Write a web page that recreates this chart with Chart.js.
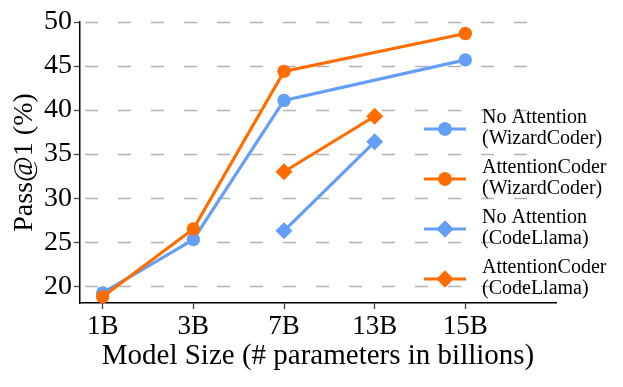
<!DOCTYPE html>
<html>
<head>
<meta charset="utf-8">
<script src="https://cdn.jsdelivr.net/npm/chart.js@4.4.1/dist/chart.umd.min.js"></script>
<style>
  html, body { margin: 0; padding: 0; background: #fff; }
  #wrap { width: 623px; height: 387px; }
</style>
</head>
<body>
<div id="wrap"><canvas id="passChart" width="623" height="387"></canvas></div>
<script>
// model sizes on the x axis
const categories = ['1B', '3B', '7B', '13B', '15B'];
const yTicks = [20, 25, 30, 35, 40, 45, 50];

// Pass@1 (%) per model size, null = not evaluated
const noAttnWizard = [19.25, 25.3, 41.1, null, 45.7];
const attnWizard = [18.8, 26.5, 44.4, null, 48.7];
const noAttnLlama = [null, null, 26.3, 36.4, null];
const attnLlama = [null, null, 33.0, 39.3, null];

const seriesLabels = [
  ['No Attention', '(WizardCoder)'],
  ['AttentionCoder', '(WizardCoder)'],
  ['No Attention', '(CodeLlama)'],
  ['AttentionCoder', '(CodeLlama)']
];

const BLUE = '#659ef6';
const ORANGE = '#ff6d00';
const SERIF = '"Liberation Serif", "Times New Roman", serif';

function toPoints(values) {
  return values
    .map((v, i) => (v === null ? null : { x: i, y: v }))
    .filter(p => p !== null);
}

function makeDataset(idx, values, color, shape, order) {
  return {
    label: seriesLabels[idx].join(' '),
    legendLines: seriesLabels[idx],
    data: toPoints(values),
    borderColor: color,
    backgroundColor: color,
    borderWidth: 3.2,
    pointStyle: shape,
    pointRadius: shape === 'rectRot' ? 8.5 : 6.7,
    pointBorderWidth: 0,
    order: order,
    clip: false
  };
}

// dashed horizontal guides, stopping a bit short of the axis end
const dashedGrid = {
  id: 'dashedGrid',
  beforeDatasetsDraw(chart) {
    const { ctx, chartArea, scales } = chart;
    const xEnd = scales.x.getPixelForValue(4.8);
    ctx.save();
    ctx.strokeStyle = '#b4b4b4';
    ctx.lineWidth = 1.5;
    ctx.setLineDash([13, 20]);
    yTicks.forEach(t => {
      const y = Math.round(scales.y.getPixelForValue(t)) + 0.5;
      ctx.beginPath();
      ctx.moveTo(chartArea.left + 5, y);
      ctx.lineTo(xEnd, y);
      ctx.stroke();
    });
    ctx.restore();
  }
};

// legend with line + marker samples and two-line labels
const sideLegend = {
  id: 'sideLegend',
  afterDatasetsDraw(chart) {
    const { ctx, chartArea } = chart;
    const x0 = chartArea.left + 344;
    const lineLen = 42;
    const textX = x0 + 58;
    let y = chartArea.top + 107;
    ctx.save();
    chart.data.datasets.forEach(ds => {
      ctx.strokeStyle = ds.borderColor;
      ctx.lineWidth = 3.2;
      ctx.beginPath();
      ctx.moveTo(x0, y);
      ctx.lineTo(x0 + lineLen, y);
      ctx.stroke();
      ctx.fillStyle = ds.borderColor;
      Chart.helpers.drawPoint(ctx, {
        pointStyle: ds.pointStyle,
        radius: ds.pointRadius,
        borderWidth: 0,
        rotation: 0
      }, x0 + lineLen / 2, y);
      ctx.fill();
      ctx.fillStyle = '#000';
      ctx.font = '20px ' + SERIF;
      ctx.textBaseline = 'middle';
      ctx.textAlign = 'left';
      ctx.fillText(ds.legendLines[0], textX, y - 11);
      ctx.fillText(ds.legendLines[1], textX, y + 10);
      y += 50;
    });
    ctx.restore();
  }
};

const ctx = document.getElementById('passChart');
const passChart = new Chart(ctx, {
  type: 'line',
  data: {
    datasets: [
      makeDataset(0, noAttnWizard, BLUE, 'circle', 2),
      makeDataset(1, attnWizard, ORANGE, 'circle', 1),
      makeDataset(2, noAttnLlama, BLUE, 'rectRot', 2),
      makeDataset(3, attnLlama, ORANGE, 'rectRot', 1)
    ]
  },
  options: {
    responsive: false,
    animation: false,
    layout: { padding: { left: 0, right: 67, top: 22, bottom: 0 } },
    plugins: {
      legend: { display: false },
      tooltip: { enabled: false }
    },
    scales: {
      x: {
        type: 'linear',
        min: -0.25,
        max: 5,
        afterBuildTicks: s => { s.ticks = categories.map((c, i) => ({ value: i })); },
        afterFit: s => { s.height = 84; },
        ticks: {
          callback: v => categories[v] || '',
          color: '#000',
          font: { family: SERIF, size: 27 },
          padding: 2,
          maxRotation: 0,
          autoSkip: false
        },
        grid: { drawOnChartArea: false, tickLength: 6, tickWidth: 1.3, tickColor: '#444' },
        border: { color: '#000', width: 1.5 },
        title: {
          display: true,
          text: 'Model Size (# parameters in billions)',
          color: '#000',
          font: { family: SERIF, size: 29 },
          padding: { top: 0, bottom: 13 }
        }
      },
      y: {
        min: 18.1,
        max: 50,
        afterBuildTicks: s => { s.ticks = yTicks.map(v => ({ value: v })); },
        afterFit: s => { s.width = 80; },
        ticks: {
          color: '#000',
          font: { family: SERIF, size: 28 },
          padding: 2
        },
        grid: { drawOnChartArea: false, tickLength: 6, tickWidth: 1.3, tickColor: '#444' },
        border: { color: '#000', width: 1.5 },
        title: {
          display: true,
          text: 'Pass@1 (%)',
          color: '#000',
          font: { family: SERIF, size: 28 },
          padding: { top: 8, bottom: 0 }
        }
      }
    }
  },
  plugins: [dashedGrid, sideLegend]
});
</script>
</body>
</html>
